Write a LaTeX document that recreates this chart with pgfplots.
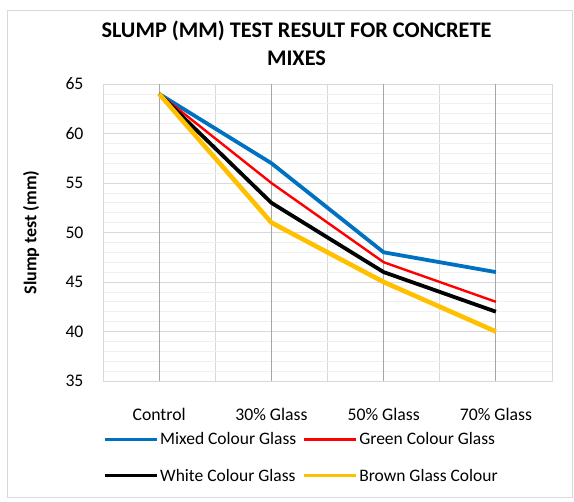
\documentclass[border=0pt]{standalone}
\usepackage{pgfplots}
\pgfplotsset{compat=1.18}
\usepackage{fontspec}
\setmainfont{Carlito}

\definecolor{mixblue}{HTML}{0070C0}
\definecolor{greenred}{HTML}{FF0000}
\definecolor{brownyel}{HTML}{FFC000}
\definecolor{gridmaj}{HTML}{D9D9D9}
\definecolor{gridmin}{HTML}{F0F0F0}
\definecolor{catgrid}{HTML}{A6A6A6}

\begin{document}
\begin{tikzpicture}
\begin{axis}[
    name=ax,
    width=449pt, height=297pt, scale only axis,
    xmin=-0.5, xmax=3.5, ymin=35, ymax=65,
    xtick={0,1,2,3},
    xticklabels={Control,30\% Glass,50\% Glass,70\% Glass},
    minor xtick={-0.5,0.5,1.5,2.5,3.5},
    ytick={35,40,...,65},
    minor ytick={35,...,65},
    xmajorgrids=false, xminorgrids=true,
    ymajorgrids=true, yminorgrids=true,
    minor x grid style={gridmaj, line width=0.8pt},
    major y grid style={gridmaj, line width=0.8pt},
    minor y grid style={gridmin, line width=0.8pt},
    extra x ticks={0,1,2,3},
    extra x tick labels={},
    extra x tick style={xmajorgrids=true, major x grid style={catgrid, line width=0.8pt}},
    axis line style={gridmaj, line width=0.8pt},
    tick style={draw=none},
    tick label style={font=\fontsize{17.7}{21}\selectfont},
    /pgf/number format/assume math mode=true,
    yticklabel style={xshift=-16pt},
    xticklabel style={yshift=-24pt},
    ylabel={Slump test (mm)},
    ylabel style={font=\bfseries\fontsize{18}{21}\selectfont,
        at={(axis description cs:-0.16,0.5)}, anchor=center},
    legend columns=2,
    legend cell align=left,
    legend style={draw=none, fill=none, inner sep=0pt,
        at={(axis description cs:0,0)}, anchor=north west, yshift=-49pt,
        font=\fontsize{17.5}{21}\selectfont,
        row sep=19pt,
        /tikz/every odd column/.append style={column sep=0pt},
        /tikz/every even column/.append style={column sep=4pt}},
    legend image code/.code={\draw[#1, line width=3pt] (0pt,0pt) -- (52pt,0pt);},
    line join=round,
]

% Mixed colour glass
\addplot[color=mixblue, line width=3.8pt] coordinates {
    (0, 64) (1, 57) (2, 48) (3, 46)
};
\addlegendentry{Mixed Colour Glass}

% Green colour glass
\addplot[color=greenred, line width=2.4pt] coordinates {
    (0, 64) (1, 55) (2, 47) (3, 43)
};
\addlegendentry{Green Colour Glass}

% White colour glass
\addplot[color=black, line width=3.8pt] coordinates {
    (0, 64) (1, 53) (2, 46) (3, 42)
};
\addlegendentry{White Colour Glass}

% Brown glass colour
\addplot[color=brownyel, line width=4.6pt] coordinates {
    (0, 64) (1, 51) (2, 45) (3, 40)
};
\addlegendentry{Brown Glass Colour}

\end{axis}

\node[font=\bfseries\fontsize{22.3}{28}\selectfont, align=center]
    at ([xshift=-31pt,yshift=41pt]ax.north)
    {SLUMP (MM) TEST RESULT FOR CONCRETE\\MIXES};

\draw[gridmaj, line width=1pt]
    ([xshift=-95pt,yshift=-116pt]ax.south west) rectangle ([xshift=20pt,yshift=74pt]ax.north east);
\pgfresetboundingbox
\path ([xshift=-103pt,yshift=-120pt]ax.south west) rectangle ([xshift=22pt,yshift=84pt]ax.north east);
\end{tikzpicture}
\end{document}
